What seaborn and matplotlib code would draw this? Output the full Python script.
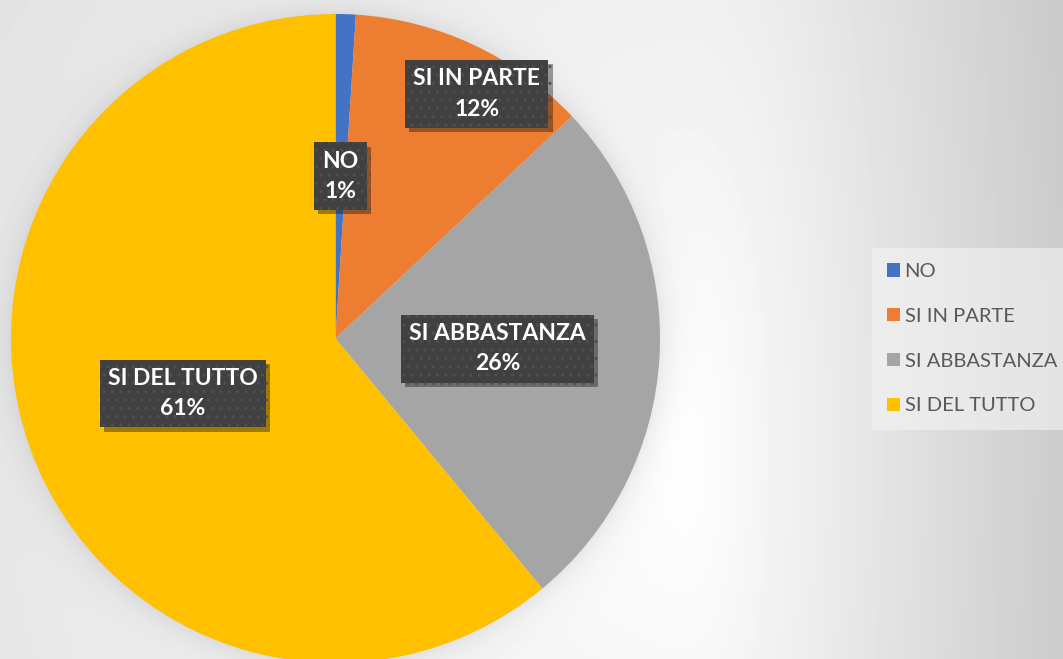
import numpy as np
import matplotlib
matplotlib.use("Agg")
import matplotlib.pyplot as plt
import matplotlib.patheffects as pe
import seaborn as sns

sns.set_style("white")
plt.rcParams['font.family'] = ['Lato', 'DejaVu Sans']

# data
categories = ['NO', 'SI IN PARTE', 'SI ABBASTANZA', 'SI DEL TUTTO']
values = [1, 12, 26, 61]
colors = sns.color_palette(['#4472C4', '#ED7D31', '#A5A5A5', '#FFC000'])

W, H = 1063, 659
fig = plt.figure(figsize=(W / 100, H / 100), dpi=100)

# grey background: white glow right of the pie, darker to the right edge
yy, xx = np.mgrid[0:H, 0:W].astype(float)
cx, cy = 680, 450
blend = 0.5 * (1 + np.tanh((xx - cx) / 80))
kx = 0.12 / 900 + (0.21 / 400 - 0.12 / 900) * blend
shade = 1.0 - np.sqrt((kx * (xx - cx)) ** 2 + (0.12 * (yy - cy) / 900) ** 2)
# soft shadow around the pie
r = np.sqrt((xx - 335.5) ** 2 + (yy - 338.5) ** 2)
shade -= 0.07 * np.exp(-np.clip(r - 324.5, 0, None) / 14)
bg = fig.add_axes([0, 0, 1, 1])
bg.imshow(shade, cmap='gray', vmin=0, vmax=1, aspect='auto', interpolation='bilinear')
bg.axis('off')

ax = fig.add_axes([11 / W, -4 / H, 649 / W, 649 / H])
wedges, texts, autotexts = ax.pie(values, colors=colors, startangle=90, counterclock=False,
                                  autopct='%1.0f%%', pctdistance=0.5, radius=1,
                                  wedgeprops=dict(linewidth=0),
                                  textprops=dict(color='white', fontsize=16.5, fontweight='bold'))
ax.set_xlim(-1, 1)
ax.set_ylim(-1, 1)

for t, lab in zip(autotexts, categories):
    t.set_text(lab + '\n' + t.get_text())
    t.set_linespacing(1.55)
    t.set_bbox(dict(boxstyle='square,pad=0.36', facecolor='#404040', edgecolor='#4f4f4f',
                    linewidth=0, hatch='..'))
    t.get_bbox_patch().set_path_effects([pe.SimplePatchShadow(offset=(3, -3), alpha=0.4),
                                         pe.Normal()])

# SI IN PARTE label sits further out (best fit)
ang = np.deg2rad(90 - 30)
autotexts[1].set_position((0.87 * np.cos(ang), 0.87 * np.sin(ang)))

leg = fig.legend(wedges, categories, loc='upper left', bbox_to_anchor=(872 / W, 1 - 248 / H),
                 frameon=True, fontsize=14.5, labelspacing=1.38, handlelength=0.62,
                 handleheight=0.62, handletextpad=0.25, borderpad=0.75, borderaxespad=0,
                 fancybox=False)
leg.get_frame().set_facecolor('#f4f4f4')
leg.get_frame().set_alpha(0.6)
leg.get_frame().set_linewidth(0)
for txt in leg.get_texts():
    txt.set_color('#595959')

fig.savefig('out.png', dpi=100)
